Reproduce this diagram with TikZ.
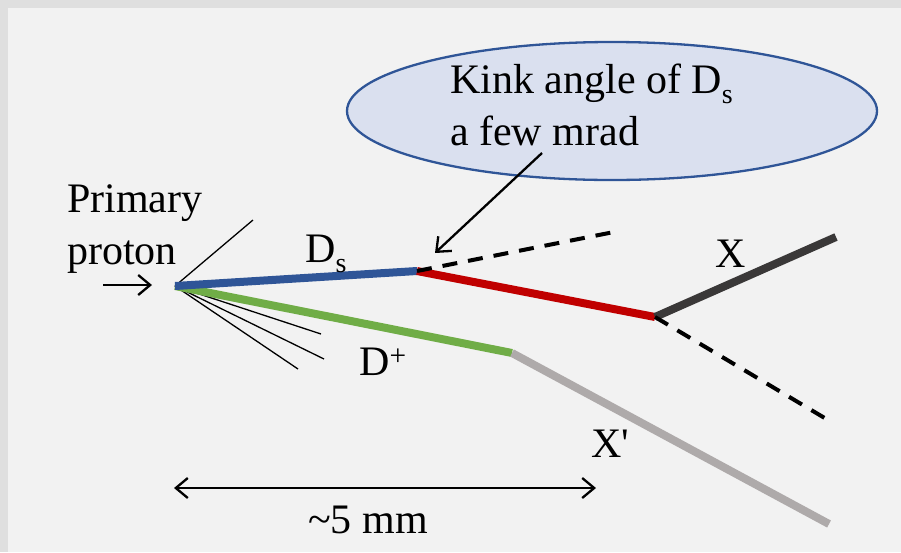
\documentclass[tikz,border=0pt]{standalone}
\usepackage{fontspec}
\setmainfont{Liberation Serif}
\usetikzlibrary{arrows.meta, positioning, shapes.geometric}
\definecolor{dsblue}{HTML}{2F5597}
\definecolor{kinkred}{HTML}{C00000}
\definecolor{dpgreen}{HTML}{70AD47}
\definecolor{xdark}{HTML}{3A3838}
\definecolor{xgray}{HTML}{AEAAAA}
\definecolor{notefill}{HTML}{DAE0EF}
\definecolor{pagebg}{HTML}{F2F2F2}
\definecolor{framebg}{HTML}{DFDFDF}
\newcommand{\lowsub}[1]{\raisebox{-10pt}{\fontsize{28}{28}\selectfont #1}}

\begin{document}
\begin{tikzpicture}[x=1pt, y=-1pt,
  every node/.style={font=\fontsize{42}{52}\selectfont, inner sep=0pt},
  trk/.style={line width=8pt},
  frag/.style={line width=1.3pt},
  dsh/.style={line width=4pt, dash pattern=on 15pt off 11pt},
  a/.style={-{Straight Barb[length=12pt, width=20pt]}, line width=2.3pt}]
\fill[framebg] (0,0) rectangle (901,552);
\fill[pagebg] (8,8) rectangle (901,552);
\useasboundingbox (0,0) rectangle (901,552);
% vertices
\coordinate (pv) at (175,286);
\coordinate (kink) at (417,271);
\coordinate (xdec) at (655,317);
\coordinate (dpdec) at (512,353);
\coordinate (xend) at (836,237);
\coordinate (xpend) at (829,524);
\coordinate (nu1) at (614,232);
\coordinate (nu2) at (828,420);
\coordinate (f1) at (253,220);
\coordinate (f2) at (321,334);
\coordinate (f3) at (324,359);
\coordinate (f4) at (298,369);
% fragments
\foreach \f in {f1,f2,f3,f4}
  \draw[frag] (pv) -- (\f);
% tracks
\draw[trk, dpgreen] (pv) -- (dpdec);
\draw[trk, xgray] (dpdec) -- (xpend);
\draw[trk, dsblue] (pv) -- (kink);
\draw[trk, kinkred] (kink) -- (xdec);
\draw[trk, xdark] (xdec) -- (xend);
\draw[dsh] (kink) -- (nu1);
\draw[dsh] (xdec) -- (nu2);
% labels
\node[anchor=base west, align=left] (beam) at (67,264) {Primary\\proton};
\coordinate (beamin) at (103,285);
\coordinate (beamtip) at (152,285);
\draw[a] (beamin) -- (beamtip);
\node[anchor=base west] (dslbl) at (305,262) {D\lowsub{s}};
\node[anchor=base west] (dplbl) at (359,375) {D\textsuperscript{+}};
\node[anchor=base west] (xlbl) at (715,267) {X};
\node[anchor=base west] (xplbl) at (591,457) {X\textquotesingle};
% kink note
\node[ellipse, draw=dsblue, line width=2.3pt, fill=notefill,
  minimum width=530pt, minimum height=138pt] (note) at (612,111) {};
\node[anchor=base west, align=left] (notetxt) at (450,145)
  {Kink angle of D\lowsub{s}\\a few mrad};
\coordinate (notefoot) at (542,153);
\coordinate (kinktip) at (435,253);
\draw[a] (notefoot) -- (kinktip);
% distance
\coordinate (rl) at (174,488);
\coordinate (rr) at (596,488);
\draw[{Straight Barb[length=12pt, width=20pt]}-{Straight Barb[length=12pt, width=20pt]}, line width=2.3pt] (rl) -- (rr);
\node[anchor=base west] (dist) at (308,533) {\textasciitilde5 mm};
\end{tikzpicture}
\end{document}
